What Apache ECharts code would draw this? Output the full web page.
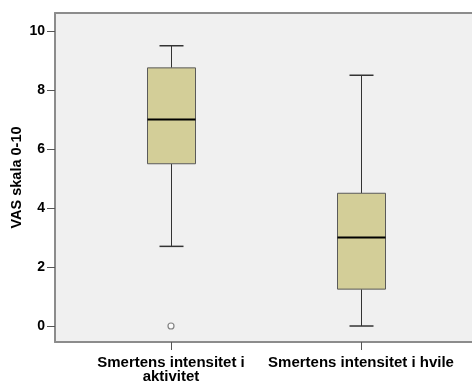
<!DOCTYPE html>
<html>
<head>
<meta charset="utf-8">
<script src="https://cdn.jsdelivr.net/npm/echarts@6/dist/echarts.min.js"></script>
<style>
  html, body { margin: 0; padding: 0; background: #ffffff; overflow: hidden; }
  /* the plot runs past the right edge of the window, so its right side is not shown */
  #chart { width: 484px; height: 381px; }
</style>
</head>
<body>
<div id="chart"></div>
<script>
// Groups along the horizontal axis (positions 1 and 2)
const categories = ['Smertens intensitet i\naktivitet', 'Smertens intensitet i hvile'];
const positions = [1, 2];

// Box statistics per group: [min whisker, Q1, median, Q3, max whisker]
const whiskerLow  = [2.7, 0.0];
const q1          = [5.5, 1.25];
const median      = [7.0, 3.0];
const q3          = [8.75, 4.5];
const whiskerHigh = [9.5, 8.5];

// Outliers: [group position, value]
const outliers = [[1, 0]];

// Value-axis tick labels
const yTicks = [0, 2, 4, 6, 8, 10];

const boxData = positions.map((p, i) => [p, whiskerLow[i], q1[i], median[i], q3[i], whiskerHigh[i]]);

const BOX_W = 48;
const CAP_W = 24;
const FRAME = { color: '#8c8c8c', width: 2 };
const X_MIN = 0.3895, X_MAX = 2.6474;

function renderBox(params, api) {
  const x = api.value(0);
  const pLow = api.coord([x, api.value(1)]);
  const pQ1 = api.coord([x, api.value(2)]);
  const pMed = api.coord([x, api.value(3)]);
  const pQ3 = api.coord([x, api.value(4)]);
  const pHigh = api.coord([x, api.value(5)]);
  const cx = Math.round(pMed[0]) + 0.5;
  const lineStyle = { stroke: '#333333', lineWidth: 1 };
  return {
    type: 'group',
    children: [
      { type: 'line', shape: { x1: cx, y1: pHigh[1], x2: cx, y2: pQ3[1] }, style: lineStyle },
      { type: 'line', shape: { x1: cx, y1: pQ1[1], x2: cx, y2: pLow[1] }, style: lineStyle },
      { type: 'line', shape: { x1: cx - CAP_W / 2, y1: pHigh[1], x2: cx + CAP_W / 2, y2: pHigh[1] }, style: { stroke: '#333333', lineWidth: 1.5 } },
      { type: 'line', shape: { x1: cx - CAP_W / 2, y1: pLow[1], x2: cx + CAP_W / 2, y2: pLow[1] }, style: { stroke: '#333333', lineWidth: 1.5 } },
      { type: 'rect', shape: { x: cx - BOX_W / 2, y: pQ3[1], width: BOX_W, height: pQ1[1] - pQ3[1] },
        style: { fill: '#D3CE98', stroke: '#5a5a5a', lineWidth: 1 } },
      { type: 'line', shape: { x1: cx - BOX_W / 2, y1: pMed[1], x2: cx + BOX_W / 2, y2: pMed[1] },
        style: { stroke: '#000000', lineWidth: 2 } }
    ]
  };
}

const labelFont = { fontFamily: 'Liberation Sans, Arial, sans-serif', fontWeight: 'bold', color: '#000000' };

const chart = echarts.init(document.getElementById('chart'), null, { renderer: 'canvas' });
chart.setOption({
  animation: false,
  backgroundColor: '#ffffff',
  grid: {
    left: 55, right: 0, top: 13, bottom: 39,
    outerBoundsMode: 'none',
    containLabel: false,
    show: true, backgroundColor: '#F0F0F0', borderWidth: 0
  },
  xAxis: [
    {
      type: 'value',
      position: 'bottom',
      min: X_MIN, max: X_MAX,
      splitLine: { show: false },
      axisLine: { show: true, onZero: false, lineStyle: FRAME },
      axisTick: { show: true, length: 8, customValues: positions, lineStyle: { color: '#555555' } },
      axisLabel: Object.assign({
        customValues: positions,
        formatter: v => categories[positions.indexOf(v)],
        margin: 14, fontSize: 15, lineHeight: 14
      }, labelFont)
    },
    {
      // top edge of the plot frame
      type: 'value',
      position: 'top',
      min: X_MIN, max: X_MAX,
      splitLine: { show: false },
      axisLine: { show: true, onZero: false, lineStyle: FRAME },
      axisTick: { show: false },
      axisLabel: { show: false }
    }
  ],
  yAxis: {
    type: 'value',
    min: -0.542, max: 10.61,
    name: 'VAS skala 0-10',
    nameLocation: 'middle',
    nameGap: 31,
    nameMoveOverlap: false,
    nameRotate: 90,
    nameTextStyle: Object.assign({ fontSize: 14.5 }, labelFont),
    splitLine: { show: false },
    axisLine: { show: true, onZero: false, lineStyle: FRAME },
    axisTick: { show: true, length: 8, customValues: yTicks, lineStyle: { color: '#555555' } },
    axisLabel: Object.assign({ customValues: yTicks, margin: 10, fontSize: 14 }, labelFont)
  },
  series: [
    {
      type: 'custom',
      renderItem: renderBox,
      data: boxData,
      encode: { x: 0, y: [1, 2, 3, 4, 5] },
      z: 3
    },
    {
      type: 'scatter',
      data: outliers,
      symbol: 'circle',
      symbolSize: 6,
      itemStyle: { color: '#ffffff', borderColor: '#666666', borderWidth: 1.2 },
      z: 4
    }
  ]
});
</script>
</body>
</html>
